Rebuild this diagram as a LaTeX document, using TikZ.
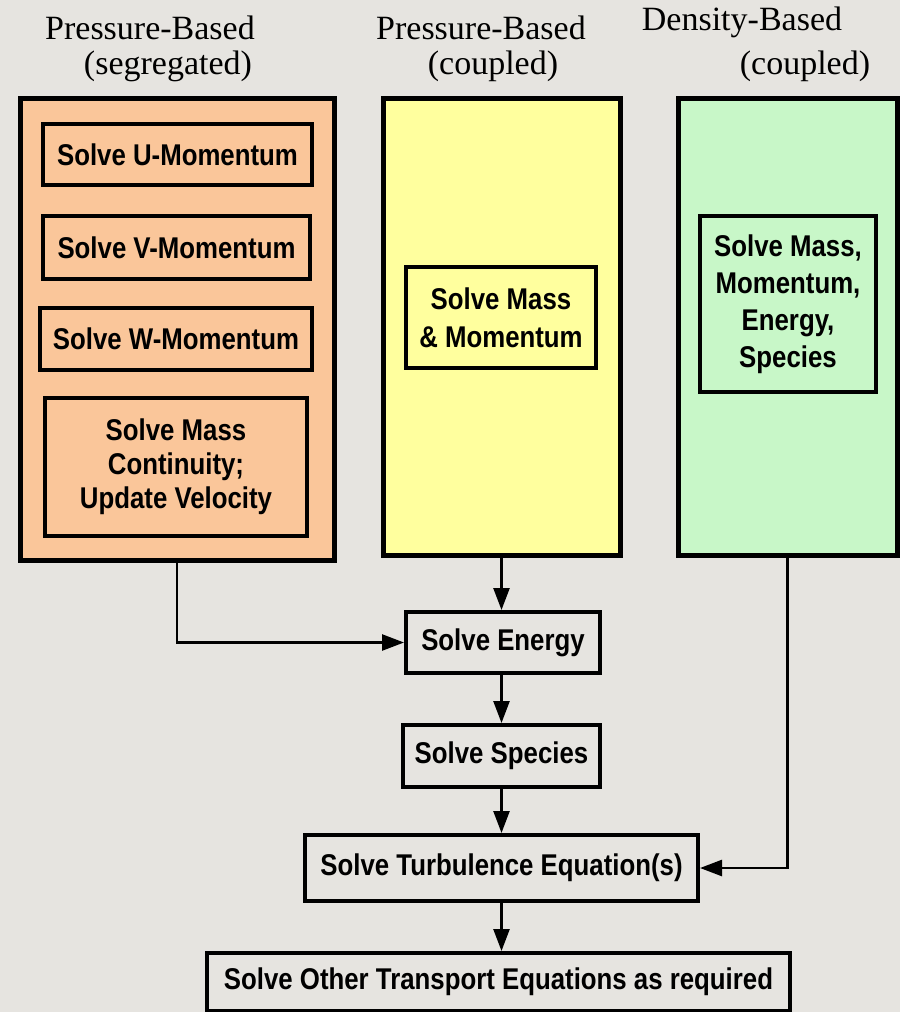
\documentclass[tikz,border=0pt]{standalone}
\usepackage{fontspec}
\setmainfont{Liberation Serif}
\newfontfamily\labfont[FakeStretch=0.86]{Liberation Sans}
\usetikzlibrary{arrows.meta}
\definecolor{bgc}{HTML}{E6E4E0}
\definecolor{orangec}{HTML}{FAC69A}
\definecolor{yellowc}{HTML}{FFFF9E}
\definecolor{greenc}{HTML}{C8F7C8}
\tikzset{
  outerbox/.style={draw=black, line width=5pt, inner sep=0pt},
  innerbox/.style={draw=black, line width=4pt, inner sep=0pt, align=center,
    font=\labfont\bfseries\fontsize{30}{34}\selectfont},
  flowbox/.style={innerbox},
  title/.style={font=\fontsize{34}{38}\selectfont, inner sep=0pt},
  conn/.style={line width=2.5pt, -{Triangle[length=22pt,width=16pt]}}
}
\begin{document}
\begin{tikzpicture}[x=1pt,y=-1pt]
\fill[bgc] (0,0) rectangle (900,1012);
\useasboundingbox (0,0) rectangle (900,1012);
% titles
\node[title] (t1) at (150,28) {Pressure-Based};
\node[title] (t2) at (168,66) {(segregated)};
\node[title] (t3) at (481,28) {Pressure-Based};
\node[title] (t4) at (493,66) {(coupled)};
\node[title] (t5) at (742,22) {Density-Based};
\node[title] (t6) at (805,66) {(coupled)};
% columns
\node[outerbox, fill=orangec, minimum width=314pt, minimum height=462pt] (org) at (177,329) {};
\node[outerbox, fill=yellowc, minimum width=237pt, minimum height=457pt] (yel) at (501.5,326.5) {};
\node[outerbox, fill=greenc, minimum width=219pt, minimum height=457pt] (grn) at (787.5,326.5) {};
% segregated
\node[innerbox, minimum width=269pt, minimum height=61pt] (u) at (177.5,154.5) {Solve U-Momentum};
\node[innerbox, minimum width=267pt, minimum height=63pt] (v) at (176.5,247.5) {Solve V-Momentum};
\node[innerbox, minimum width=272pt, minimum height=62pt] (w) at (176,339) {Solve W-Momentum};
\node[innerbox, minimum width=262pt, minimum height=138pt] (mass) at (176,467) {Solve Mass\\Continuity;\\Update Velocity};
% coupled
\node[innerbox, font=\labfont\bfseries\fontsize{30}{38}\selectfont, minimum width=190pt, minimum height=101pt] (pc) at (501,317.5) {Solve Mass\\\& Momentum};
\node[innerbox, font=\labfont\bfseries\fontsize{30}{37}\selectfont, minimum width=176pt, minimum height=176pt] (dc) at (788,304) {Solve Mass,\\Momentum,\\Energy,\\Species};
% flow
\node[flowbox, minimum width=194pt, minimum height=61pt] (energy) at (503,642.5) {Solve Energy};
\node[flowbox, minimum width=197pt, minimum height=62pt] (species) at (501.5,756) {Solve Species};
\node[flowbox, minimum width=393pt, minimum height=66pt] (turb) at (501.5,868) {Solve Turbulence Equation(s)};
\node[flowbox, minimum width=583pt, minimum height=58pt] (other) at (498.5,982) {Solve Other Transport Equations as required};
% connectors
\draw[conn] (yel.south) -- (yel.south |- energy.north);
\draw[conn] (org.south) |- (energy.west);
\draw[conn] (energy.south -| species.north) -- (species.north);
\draw[conn] (species.south) -- (species.south |- turb.north);
\draw[conn] (grn.south) |- (turb.east);
\draw[conn] (turb.south) -- (turb.south |- other.north);
\end{tikzpicture}
\end{document}
